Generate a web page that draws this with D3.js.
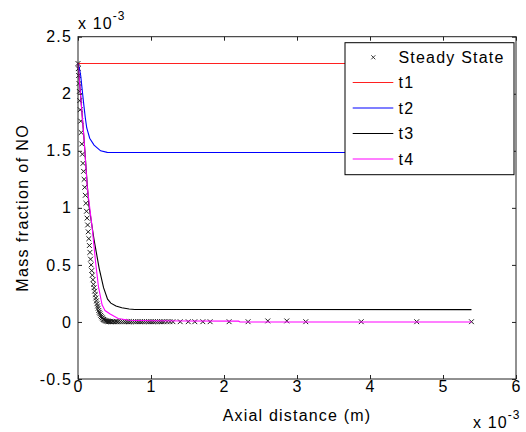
<!DOCTYPE html>
<html>
<head>
<meta charset="utf-8">
<script src="https://cdn.jsdelivr.net/npm/d3@7"></script>
<style>
  body { margin: 0; background: #fff; }
  text { font-family: "Liberation Sans", Arial, sans-serif; }
</style>
</head>
<body>
<div id="chart"></div>
<script>
// values in units of 1e-3 (both axes)
const xTicks = [0, 1, 2, 3, 4, 5, 6];
const yTicks = [-0.5, 0, 0.5, 1, 1.5, 2, 2.5];
const yTickLabels = ["-0.5", "0", "0.5", "1", "1.5", "2", "2.5"];

const legendLabels = ["Steady State", "t1", "t2", "t3", "t4"];
const lineColors = ["#ff2020", "#0000ff", "#000000", "#ff00ff"];

// steady state (markers only)
const ssX = [0, 0.004, 0.008, 0.013, 0.018, 0.024, 0.030, 0.037, 0.044, 0.052, 0.060, 0.068, 0.076, 0.084,
  0.092, 0.100, 0.108, 0.116, 0.124, 0.132, 0.140, 0.148, 0.156, 0.164, 0.172, 0.180, 0.188, 0.196,
  0.204, 0.212, 0.220, 0.228, 0.236, 0.244, 0.252, 0.260, 0.268, 0.276, 0.284, 0.292, 0.300, 0.310,
  0.320, 0.330, 0.340, 0.350, 0.360, 0.370, 0.380, 0.390, 0.400, 0.410, 0.420, 0.430, 0.440, 0.450,
  0.47, 0.49, 0.51, 0.53, 0.55, 0.58, 0.61, 0.64, 0.67, 0.70, 0.73, 0.76, 0.79, 0.82, 0.85, 0.88,
  0.91, 0.94, 0.97, 1.00, 1.03, 1.06, 1.09, 1.12, 1.15, 1.18, 1.22, 1.26, 1.30, 1.40, 1.51, 1.60,
  1.71, 1.81, 2.07, 2.33, 2.60, 2.86, 3.12, 3.88, 4.64, 5.39];
const ssY = [2.265, 2.22, 2.16, 2.09, 2.02, 1.94, 1.86, 1.76, 1.66, 1.56, 1.47, 1.39, 1.32, 1.25,
  1.18, 1.11, 1.04, 0.97, 0.91, 0.85, 0.79, 0.73, 0.67, 0.61, 0.55, 0.50, 0.45, 0.41,
  0.37, 0.33, 0.30, 0.27, 0.24, 0.21, 0.185, 0.16, 0.14, 0.12, 0.10, 0.085, 0.072, 0.058,
  0.046, 0.036, 0.028, 0.022, 0.017, 0.013, 0.010, 0.008, 0.006, 0.005, 0.004, 0.003, 0.003, 0.002,
  0.002, 0.002, 0.002, 0.002, 0.002, 0.002, 0.002, 0.002, 0.002, 0.002, 0.002, 0.002, 0.002, 0.002, 0.002, 0.002,
  0.002, 0.002, 0.002, 0.002, 0.002, 0.002, 0.002, 0.002, 0.002, 0.002, 0.002, 0.002, 0.002, 0.002, 0.002, 0.002,
  0.002, 0.002, 0.002, 0.002, 0.009, 0.009, 0.002, 0.002, 0.002, 0.002];

const t1X = [0, 5.39];
const t1Y = [2.265, 2.265];

const t2X = [0, 0.02, 0.037, 0.06, 0.08, 0.10, 0.12, 0.16, 0.22, 0.31, 0.40, 5.39];
const t2Y = [2.265, 2.22, 2.16, 2.02, 1.90, 1.79, 1.70, 1.61, 1.55, 1.50, 1.486, 1.485];

const t3X = [0, 0.04, 0.082, 0.127, 0.15, 0.22, 0.29, 0.35, 0.405, 0.45, 0.52, 0.60, 0.70, 0.78, 5.39];
const t3Y = [2.265, 1.95, 1.61, 1.20, 1.02, 0.72, 0.47, 0.30, 0.20, 0.165, 0.14, 0.125, 0.113, 0.109, 0.108];

const t4X = [0, 0.04, 0.082, 0.127, 0.195, 0.24, 0.28, 0.33, 0.37, 0.44, 0.55, 0.70, 1.00, 1.50, 2.20, 2.22, 5.39];
const t4Y = [2.265, 1.95, 1.61, 1.18, 0.82, 0.53, 0.31, 0.15, 0.10, 0.07, 0.03, 0.015, 0.01, 0.008, 0.007, 0.0, 0.0];

const width = 526, height = 432;
const plotL = 78, plotR = 516, plotT = 36.7, plotB = 379;

const svg = d3.select("#chart").append("svg")
  .attr("width", width)
  .attr("height", height);

const x = d3.scaleLinear().domain([0, 6]).range([plotL, plotR]);
const y = d3.scaleLinear().domain([-0.5, 2.5]).range([plotB, plotT]);

const line = d3.line().x(d => x(d[0])).y(d => y(d[1]));

// steady state markers
const ssData = ssX.map((v, i) => [v, ssY[i]]);
function xMark(cx, cy, r) {
  return `M${cx - r},${cy - r}L${cx + r},${cy + r}M${cx - r},${cy + r}L${cx + r},${cy - r}`;
}
svg.append("path")
  .attr("d", ssData.map(d => xMark(x(d[0]), y(d[1]), 2.4)).join(""))
  .style("fill", "none")
  .style("stroke", "#1a1a1a")
  .style("stroke-width", 1);

// transient lines
const series = [[t1X, t1Y], [t2X, t2Y], [t3X, t3Y], [t4X, t4Y]];
series.forEach((s, i) => {
  svg.append("path")
    .datum(s[0].map((v, j) => [v, s[1][j]]))
    .attr("d", line)
    .style("fill", "none")
    .style("stroke", lineColors[i])
    .style("stroke-width", 1.1);
});

// axes, ticks inward
const tickFont = g => g.selectAll("text")
  .style("font-size", "16px")
  .style("letter-spacing", "1.2px")
  .style("fill", "#000");

svg.append("g")
  .attr("transform", `translate(0,${plotB})`)
  .call(d3.axisBottom(x).tickValues(xTicks).tickSize(-4).tickPadding(2).tickFormat(d3.format("d")))
  .call(g => g.select(".domain").remove())
  .call(tickFont);
svg.append("g")
  .attr("transform", `translate(0,${plotT})`)
  .call(d3.axisTop(x).tickValues(xTicks).tickSize(-4).tickFormat(""))
  .call(g => g.select(".domain").remove());
svg.append("g")
  .attr("transform", `translate(${plotL},0)`)
  .call(d3.axisLeft(y).tickValues(yTicks).tickSize(-4).tickPadding(6)
    .tickFormat((d, i) => yTickLabels[i]))
  .call(g => g.select(".domain").remove())
  .call(tickFont);
svg.append("g")
  .attr("transform", `translate(${plotR},0)`)
  .call(d3.axisRight(y).tickValues(yTicks).tickSize(-4).tickFormat(""))
  .call(g => g.select(".domain").remove());

svg.selectAll(".tick line").style("stroke", "#222");

svg.append("rect")
  .attr("x", plotL).attr("y", plotT)
  .attr("width", plotR - plotL).attr("height", plotB - plotT)
  .style("fill", "none")
  .style("stroke", "#222")
  .style("stroke-width", 1);

// axis labels
svg.append("text")
  .attr("x", (plotL + plotR) / 2)
  .attr("y", 421)
  .attr("text-anchor", "middle")
  .style("font-size", "16px")
  .style("letter-spacing", "1.2px")
  .text("Axial distance (m)");

svg.append("text")
  .attr("transform", `translate(28,${(plotT + plotB) / 2}) rotate(-90)`)
  .attr("text-anchor", "middle")
  .style("font-size", "16px")
  .style("letter-spacing", "1.4px")
  .text("Mass fraction of NO");

// exponent labels
function expLabel(px, py) {
  const t = svg.append("text")
    .attr("x", px).attr("y", py)
    .style("font-size", "16px")
    .style("letter-spacing", "1.1px");
  t.append("tspan").text("x 10");
  t.append("tspan").attr("dy", -9).style("font-size", "12px").text("-3");
}
expLabel(78, 28.5);
expLabel(473, 428);

// legend
const legendRowY = [57.3, 82.5, 108, 133.5, 159];
const legend = svg.append("g");
legend.append("rect")
  .attr("x", 345).attr("y", 42.7)
  .attr("width", 169).attr("height", 132)
  .style("fill", "#fff")
  .style("stroke", "#000")
  .style("stroke-width", 1);

legendLabels.forEach((lab, i) => {
  const ly = legendRowY[i];
  if (i === 0) {
    legend.append("path")
      .attr("d", xMark(373.3, ly, 2))
      .style("stroke", "#222")
      .style("stroke-width", 0.9);
  } else {
    legend.append("line")
      .attr("x1", 352.7).attr("x2", 393.3)
      .attr("y1", ly).attr("y2", ly)
      .style("stroke", lineColors[i - 1])
      .style("stroke-width", 1.1);
  }
  legend.append("text")
    .attr("x", 398.5).attr("y", ly)
    .attr("dy", "0.36em")
    .style("font-size", "16px")
    .style("letter-spacing", "1.2px")
    .text(lab);
});
</script>
</body>
</html>
